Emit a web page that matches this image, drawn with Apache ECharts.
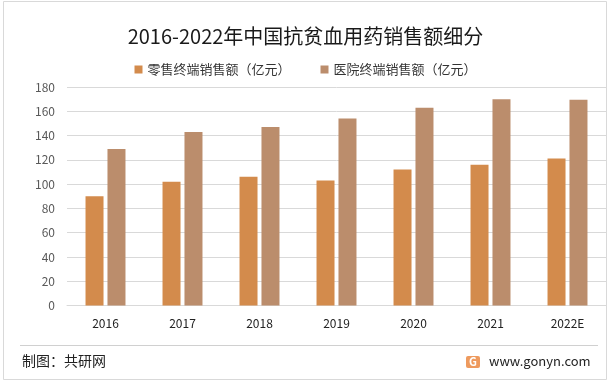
<!DOCTYPE html>
<html><head><meta charset="utf-8">
<script src="https://cdn.jsdelivr.net/npm/echarts@6/dist/echarts.min.js"></script>
<style>html,body{margin:0;padding:0;background:#fff}#c{width:611px;height:384px}</style>
</head><body><div id="c"></div>
<script>
const categories = ['2016','2017','2018','2019','2020','2021','2022E'];
const retailSales = [90, 102, 106, 103, 112, 116, 121];
const hospitalSales = [129, 143, 147, 154, 163, 170, 169.5];
const seriesNames = ['零售终端销售额（亿元）', '医院终端销售额（亿元）'];
const yTicks = {min: 0, max: 180, interval: 20};

const font = '"Noto Sans CJK SC", "Noto Sans", sans-serif';
const chart = echarts.init(document.getElementById('c'), null, {renderer: 'canvas'});
chart.setOption({
  backgroundColor: '#fff',
  animation: false,
  title: {
    text: '2016-2022年中国抗贫血用药销售额细分',
    left: 'center', top: 21,
    textStyle: {fontFamily: font, fontSize: 20, fontWeight: 'normal', color: '#1a1a1a'}
  },
  legend: {
    top: 58, left: 'center', itemWidth: 8, itemHeight: 8, itemGap: 30,
    icon: 'rect',
    textStyle: {fontFamily: font, fontSize: 13, color: '#333'},
    data: seriesNames
  },
  grid: {left: 67, right: 5, top: 87, bottom: 78.5},
  xAxis: {
    type: 'category', data: categories,
    axisLine: {lineStyle: {color: '#d9d9d9', width: 1}},
    axisTick: {show: false},
    axisLabel: {fontFamily: font, fontSize: 12, color: '#222', margin: 12}
  },
  yAxis: {
    type: 'value', min: yTicks.min, max: yTicks.max, interval: yTicks.interval,
    axisLine: {show: false}, axisTick: {show: false},
    axisLabel: {fontFamily: font, fontSize: 12, color: '#595959', margin: 12},
    splitLine: {lineStyle: {color: '#d9d9d9', width: 1}}
  },
  series: [
    {name: seriesNames[0], type: 'bar', data: retailSales, barWidth: 18, barGap: '22%',
     itemStyle: {color: '#D38B4C'}},
    {name: seriesNames[1], type: 'bar', data: hospitalSales, barWidth: 18,
     itemStyle: {color: '#BB8D6C'}}
  ],
  graphic: [
    {type: 'rect', shape: {x: 3.5, y: 1.5, width: 603, height: 378}, style: {fill: 'none', stroke: '#d9d9d9', lineWidth: 1}, silent: true, z: -1},
    {type: 'line', shape: {x1: 20, y1: 345.5, x2: 598, y2: 345.5}, style: {stroke: '#d0d0d0', lineWidth: 1}},
    {type: 'text', left: 22, top: 354, style: {text: '制图：共研网', fontFamily: font, fontSize: 14, fill: '#222'}},
    {type: 'rect', shape: {x: 466, y: 356, width: 14, height: 12, r: 2}, style: {fill: '#EE9A5E'}},
    {type: 'text', left: 469, top: 356, style: {text: 'G', fontFamily: font, fontSize: 11, fontWeight: 'bold', fill: '#fff'}},
    {type: 'text', left: 489, top: 355, style: {text: 'www.gonyn.com', fontFamily: font, fontSize: 13, fill: '#222'}}
  ]
});
</script></body></html>
